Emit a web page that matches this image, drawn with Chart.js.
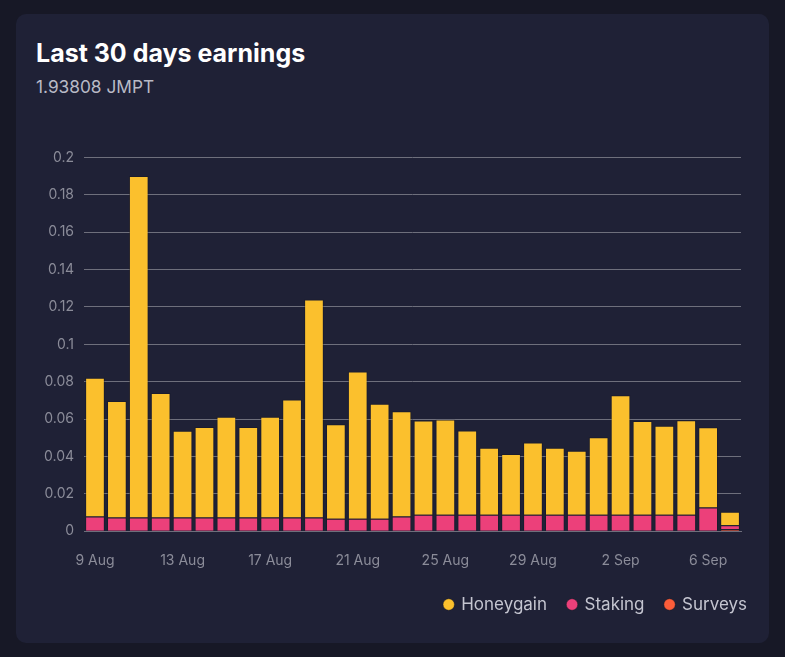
<!DOCTYPE html>
<html>
<head>
<meta charset="utf-8">
<script src="https://cdn.jsdelivr.net/npm/chart.js@4/dist/chart.umd.min.js"></script>
<style>
  html, body { margin: 0; padding: 0; background: #171826; width: 785px; height: 657px; overflow: hidden; }
  .card {
    position: absolute; left: 16px; top: 14px; width: 753px; height: 629px;
    background: #1f2136; border-radius: 10px; font-family: Inter, "Noto Sans", sans-serif;
  }
  .card h2 { position: absolute; left: 20px; top: 24px; margin: 0; font-size: 25px; font-weight: 700; color: #ffffff; }
  .card .sub { position: absolute; left: 20px; top: 62px; font-size: 17.3px; color: #b9bac6; }
  .chartBox { position: absolute; left: 18px; top: 125px; width: 734px; height: 484px; }
</style>
</head>
<body>
<div class="card">
  <h2>Last 30 days earnings</h2>
  <div class="sub">1.93808 JMPT</div>
  <div class="chartBox"><canvas id="earnChart"></canvas></div>
</div>
<script>
let days = ['9 Aug', '10 Aug', '11 Aug', '12 Aug', '13 Aug', '14 Aug', '15 Aug', '16 Aug', '17 Aug', '18 Aug',
    '19 Aug', '20 Aug', '21 Aug', '22 Aug', '23 Aug', '24 Aug', '25 Aug', '26 Aug', '27 Aug', '28 Aug',
    '29 Aug', '30 Aug', '31 Aug', '1 Sep', '2 Sep', '3 Sep', '4 Sep', '5 Sep', '6 Sep', '7 Sep'];

let honeygain = [0.0743, 0.0623, 0.1827, 0.0666, 0.0464, 0.0485, 0.0539, 0.0485, 0.0539, 0.0632,
    0.1167, 0.0506, 0.0788, 0.0616, 0.0564, 0.0504, 0.0510, 0.0451, 0.0359, 0.0325,
    0.0386, 0.0358, 0.0342, 0.0415, 0.0640, 0.0501, 0.0476, 0.0506, 0.0429, 0.0072];

let staking = [0.0078, 0.0073, 0.0073, 0.0073, 0.0073, 0.0073, 0.0073, 0.0073, 0.0073, 0.0073,
    0.0073, 0.0066, 0.0066, 0.0066, 0.0078, 0.0088, 0.0088, 0.0088, 0.0088, 0.0088,
    0.0088, 0.0088, 0.0088, 0.0088, 0.0088, 0.0088, 0.0088, 0.0088, 0.0127, 0.0022];

let surveys = [0, 0, 0, 0, 0, 0, 0, 0, 0, 0,
    0, 0, 0, 0, 0, 0, 0, 0, 0, 0,
    0, 0, 0, 0, 0, 0, 0, 0, 0, 0.0010];

let yTicks = [0, 0.02, 0.04, 0.06, 0.08, 0.1, 0.12, 0.14, 0.16, 0.18, 0.2];

const tickColor = '#8b8c99';
const gridColor = '#6e6f7c';

// bottom of the stack first, legend reversed so Honeygain comes first
new Chart('earnChart', {
    type: 'bar',
    data: {
        labels: days,
        datasets: [
            { label: 'Surveys', data: surveys, backgroundColor: '#fb5d3a' },
            { label: 'Staking', data: staking, backgroundColor: '#ec407a' },
            { label: 'Honeygain', data: honeygain, backgroundColor: '#fbc02d' }
        ]
    },
    options: {
        responsive: true,
        maintainAspectRatio: false,
        animation: false,
        datasets: {
            bar: {
                barPercentage: 0.9,
                categoryPercentage: 1,
                borderWidth: 1,
                borderColor: 'rgba(20, 20, 30, 0.35)'
            }
        },
        plugins: {
            legend: {
                position: 'bottom',
                align: 'end',
                reverse: true,
                labels: {
                    usePointStyle: true,
                    pointStyle: 'circle',
                    boxWidth: 8,
                    boxHeight: 8,
                    padding: 21,
                    color: '#c4c5d0',
                    font: { family: 'Inter', size: 17 }
                }
            },
            tooltip: { enabled: false }
        },
        scales: {
            x: {
                stacked: true,
                grid: { display: false },
                border: { display: true, color: gridColor },
                ticks: {
                    color: tickColor,
                    font: { family: 'Inter', size: 14 },
                    autoSkip: false,
                    maxRotation: 0,
                    padding: 13,
                    callback: function (value, index) {
                        return index % 4 === 0 ? days[index] : '';
                    }
                },
                // pull the legend a bit closer to the date labels
                afterFit: function (scale) {
                    scale.height -= 7;
                }
            },
            y: {
                stacked: true,
                min: 0,
                max: 0.2,
                afterBuildTicks: function (axis) {
                    axis.ticks = yTicks.map(v => ({ value: v }));
                },
                grid: { color: gridColor, drawTicks: false },
                border: { display: false },
                ticks: {
                    color: tickColor,
                    font: { family: 'Inter', size: 14 },
                    padding: 10,
                    callback: function (value) {
                        return String(Number(value.toFixed(2)));
                    }
                }
            },
            // empty axis on the right, only to keep the plot narrower than the legend row
            yRight: {
                position: 'right',
                display: true,
                grid: { display: false },
                border: { display: false },
                ticks: { display: false },
                afterFit: function (scale) {
                    scale.width = 27;
                }
            }
        }
    }
});
</script>
</body>
</html>
